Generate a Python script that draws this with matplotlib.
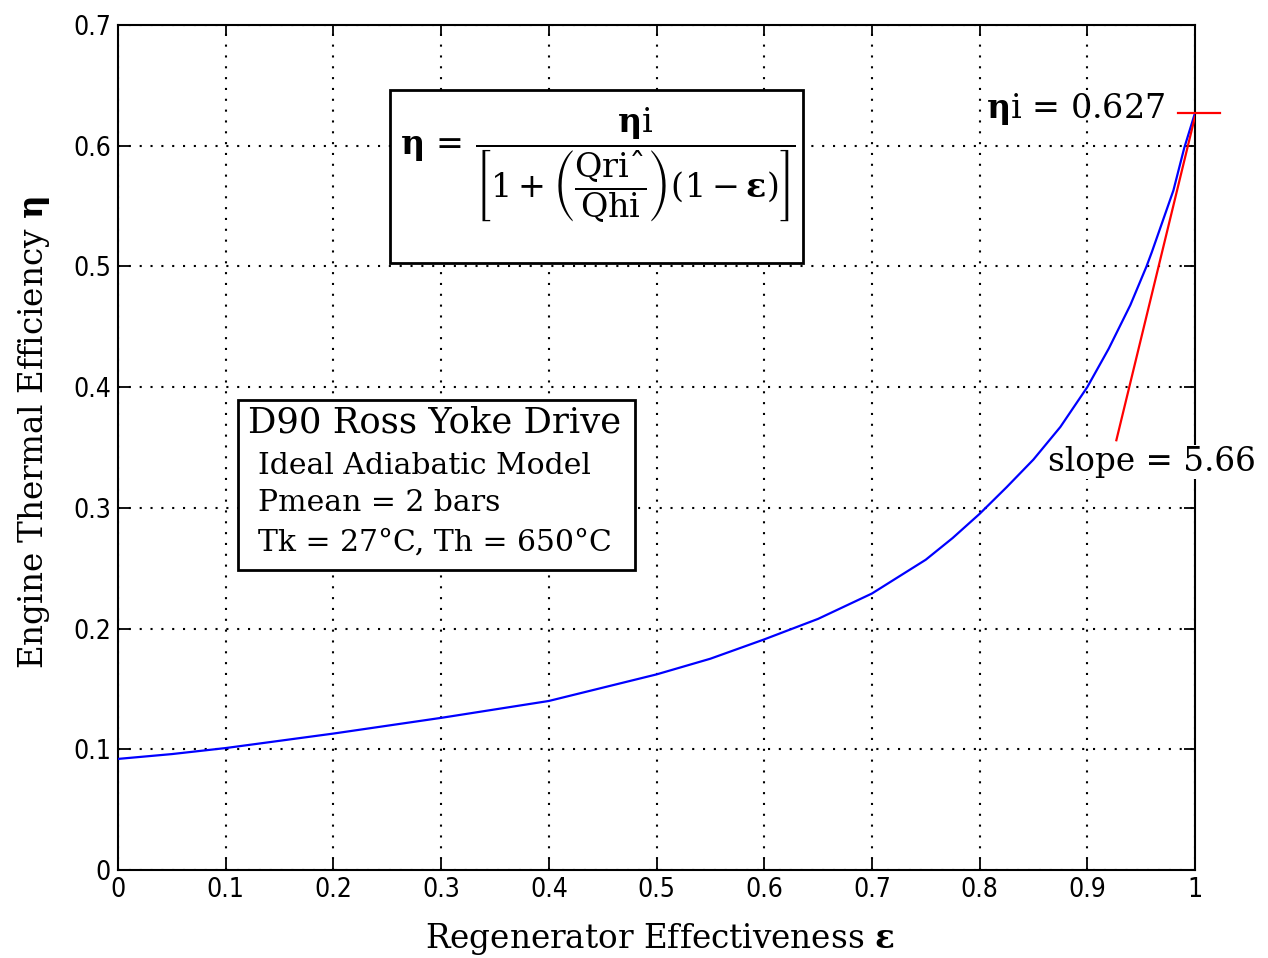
import matplotlib
matplotlib.use('Agg')
import matplotlib.pyplot as plt
from matplotlib import font_manager
from matplotlib.patches import Rectangle

# data
eps = [0.0, 0.05, 0.1, 0.2, 0.3, 0.4, 0.5, 0.55, 0.6, 0.65, 0.7, 0.75, 0.775,
       0.8, 0.825, 0.85, 0.875, 0.9, 0.92, 0.94, 0.955, 0.96, 0.98, 0.99, 1.0]
eta = [0.092, 0.096, 0.101, 0.113, 0.126, 0.140, 0.162, 0.175, 0.191, 0.208,
       0.229, 0.257, 0.275, 0.295, 0.317, 0.340, 0.367, 0.400, 0.432, 0.468,
       0.500, 0.512, 0.563, 0.598, 0.627]

tangent_x = [0.927, 1.0]
tangent_y = [0.356, 0.624]
eta_i = 0.627
eta_i_tick_x = [0.984, 1.023]

xticks = [0, 0.1, 0.2, 0.3, 0.4, 0.5, 0.6, 0.7, 0.8, 0.9, 1]
yticks = [0, 0.1, 0.2, 0.3, 0.4, 0.5, 0.6, 0.7]
xtick_labels = ['0', '0.1', '0.2', '0.3', '0.4', '0.5', '0.6', '0.7', '0.8', '0.9', '1']
ytick_labels = ['0', '0.1', '0.2', '0.3', '0.4', '0.5', '0.6', '0.7']

info_lines = ['D90 Ross Yoke Drive', 'Ideal Adiabatic Model', 'Pmean = 2 bars',
              'Tk = 27\u00b0C, Th = 650\u00b0C']

plt.rcParams['font.family'] = 'DejaVu Serif'
plt.rcParams['mathtext.fontset'] = 'dejavuserif'

fonts = font_manager.fontManager.ttflist
has_cond = any(f.name == 'DejaVu Sans' and f.stretch == 'condensed' for f in fonts)
if has_cond:
    tick_font = dict(family='DejaVu Sans', stretch='condensed', size=19)
else:
    tick_font = dict(family='Liberation Sans', size=18)

fig = plt.figure(figsize=(12.68, 9.58), dpi=100)
ax = fig.add_axes([0.0931, 0.0919, 0.8493, 0.882])

ax.plot(eps, eta, color='blue', lw=1.6, zorder=3)
ax.plot(tangent_x, tangent_y, color='red', lw=1.6, zorder=3)
ax.plot(eta_i_tick_x, [eta_i, eta_i], color='red', lw=1.6, zorder=3, clip_on=False)

ax.set_xlim(0, 1)
ax.set_ylim(0, 0.7)
ax.set_xticks(xticks)
ax.set_yticks(yticks)
ax.set_xticklabels(xtick_labels, **tick_font)
ax.set_yticklabels(ytick_labels, **tick_font)
ax.tick_params(direction='in', length=8, width=1.3, top=True, right=True, pad=5)
for s in ax.spines.values():
    s.set_linewidth(1.5)

ax.grid(True, color='black', lw=1.5, linestyle=(0, (1, 4.2)))
ax.set_axisbelow(True)

ax.set_xlabel('Regenerator Effectiveness $\\mathbf{\\varepsilon}$', fontsize=23.5)
ax.set_ylabel('Engine Thermal Efficiency $\\mathbf{\\eta}$', fontsize=23.5)
ax.xaxis.set_label_coords(0.503, -0.06)
ax.yaxis.set_label_coords(-0.0615, 0.518)

# formula box
ax.add_patch(Rectangle((0.2526, 0.718), 0.3834, 0.205, transform=ax.transAxes,
                       facecolor='white', edgecolor='black', lw=2, zorder=5))
formula = (r'$\mathbf{\eta}\, = \,\dfrac{\mathbf{\eta}\mathrm{i}}'
           r'{\left[1 + \left(\dfrac{\mathrm{Qri' + '\u02c6' + r'}}{\mathrm{Qhi}}\right)'
           r'(1 - \mathbf{\varepsilon})\right]}$')
ax.text(0.2618, 0.834, formula, transform=ax.transAxes, ha='left', va='center',
        fontsize=24, zorder=6)

# info box
ax.add_patch(Rectangle((0.1114, 0.355), 0.3686, 0.201, transform=ax.transAxes,
                       facecolor='white', edgecolor='black', lw=2, zorder=5))
ax.text(0.121, 0.529, info_lines[0], transform=ax.transAxes, ha='left', va='center',
        fontsize=25.5, zorder=6)
line_y = [0.478, 0.434, 0.388]
for t, yy in zip(info_lines[1:], line_y):
    ax.text(0.1295, yy, t, transform=ax.transAxes, ha='left', va='center',
            fontsize=21.5, zorder=6)

ax.text(0.972, 0.630, '$\\mathbf{\\eta}$i = 0.627', ha='right', va='center',
        fontsize=24, zorder=6)
ax.text(0.8635, 0.338, 'slope = 5.66', ha='left', va='center', fontsize=23.5, zorder=6,
        bbox=dict(facecolor='white', edgecolor='none', pad=1))

fig.savefig('out.png', dpi=100)
